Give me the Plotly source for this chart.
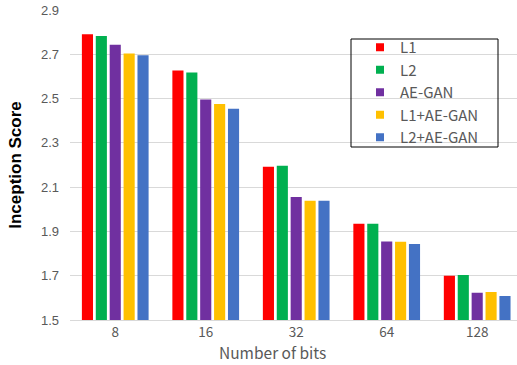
import plotly.graph_objects as go

# Inception Score by code length for each training loss
bits = ["8", "16", "32", "64", "128"]
series_names = ["L1", "L2", "AE-GAN", "L1+AE-GAN", "L2+AE-GAN"]
l1 = [2.79, 2.627, 2.192, 1.935, 1.700]
l2 = [2.783, 2.618, 2.197, 1.935, 1.703]
ae_gan = [2.743, 2.496, 2.056, 1.854, 1.623]
l1_ae_gan = [2.704, 2.476, 2.038, 1.853, 1.626]
l2_ae_gan = [2.696, 2.454, 2.038, 1.843, 1.608]
y_ticks = [1.5, 1.7, 1.9, 2.1, 2.3, 2.5, 2.7, 2.9]

colors = ["#FF0000", "#00B050", "#7030A0", "#FFC000", "#4472C4"]
values = [l1, l2, ae_gan, l1_ae_gan, l2_ae_gan]

GRAY = "#595959"
GRID = "#D9D9D9"
CJK = "Noto Sans CJK SC"

# plot area in pixels
L, R, T, B = 70, 0, 10, 45
W, H = 517, 365
PW, PH = W - L - R, H - T - B


def px_x(x):
    return (x - L) / PW


def px_y(y):
    return (H - B - y) / PH


fig = go.Figure()
for name, vals, col in zip(series_names, values, colors):
    fig.add_trace(go.Bar(
        x=bits, y=vals, name=name, marker_color=col,
        marker_line_width=0, showlegend=False,
    ))
# legend entries with small square swatches
for name, col in zip(series_names, colors):
    fig.add_trace(go.Scatter(
        x=[None], y=[None], mode="markers", name=name,
        marker=dict(symbol="square", size=8, color=col),
    ))

fig.update_layout(
    width=W, height=H,
    margin=dict(l=L, r=R, t=T, b=B),
    paper_bgcolor="white", plot_bgcolor="white",
    barmode="group", bargap=0.232, bargroupgap=0.2,
    legend=dict(
        x=px_x(360), y=px_y(31), xanchor="left", yanchor="top",
        font=dict(family=CJK, size=15, color=GRAY),
        bgcolor="rgba(0,0,0,0)", borderwidth=0,
        itemwidth=30, tracegroupgap=0,
    ),
    shapes=[dict(
        type="rect", xref="paper", yref="paper",
        x0=px_x(351), x1=px_x(498),
        y0=px_y(147), y1=px_y(39),
        line=dict(color="black", width=1), fillcolor="rgba(0,0,0,0)",
    )],
    annotations=[dict(
        text="Number of bits", xref="paper", yref="paper",
        x=px_x(272), y=px_y(352), xanchor="center", yanchor="middle",
        showarrow=False, font=dict(family=CJK, size=15.5, color=GRAY),
    )],
)

fig.update_xaxes(
    range=[-0.5, 4.44],
    showline=True, linecolor=GRID, linewidth=1,
    showgrid=False, ticks="",
    tickfont=dict(family=CJK, size=13.5, color=GRAY),
)
fig.update_yaxes(
    range=[1.5, 2.9], tickvals=y_ticks,
    ticktext=[f"{v:.1f}" for v in y_ticks],
    showgrid=True, gridcolor=GRID, gridwidth=1,
    zeroline=False, showline=False, ticks="",
    ticklabelstandoff=10,
    tickfont=dict(family="Liberation Sans", size=13, color=GRAY),
    title=dict(text="<b>Inception Score</b>", font=dict(family="Liberation Sans", size=17, color="black"), standoff=14),
)

fig.write_html("out.html")
